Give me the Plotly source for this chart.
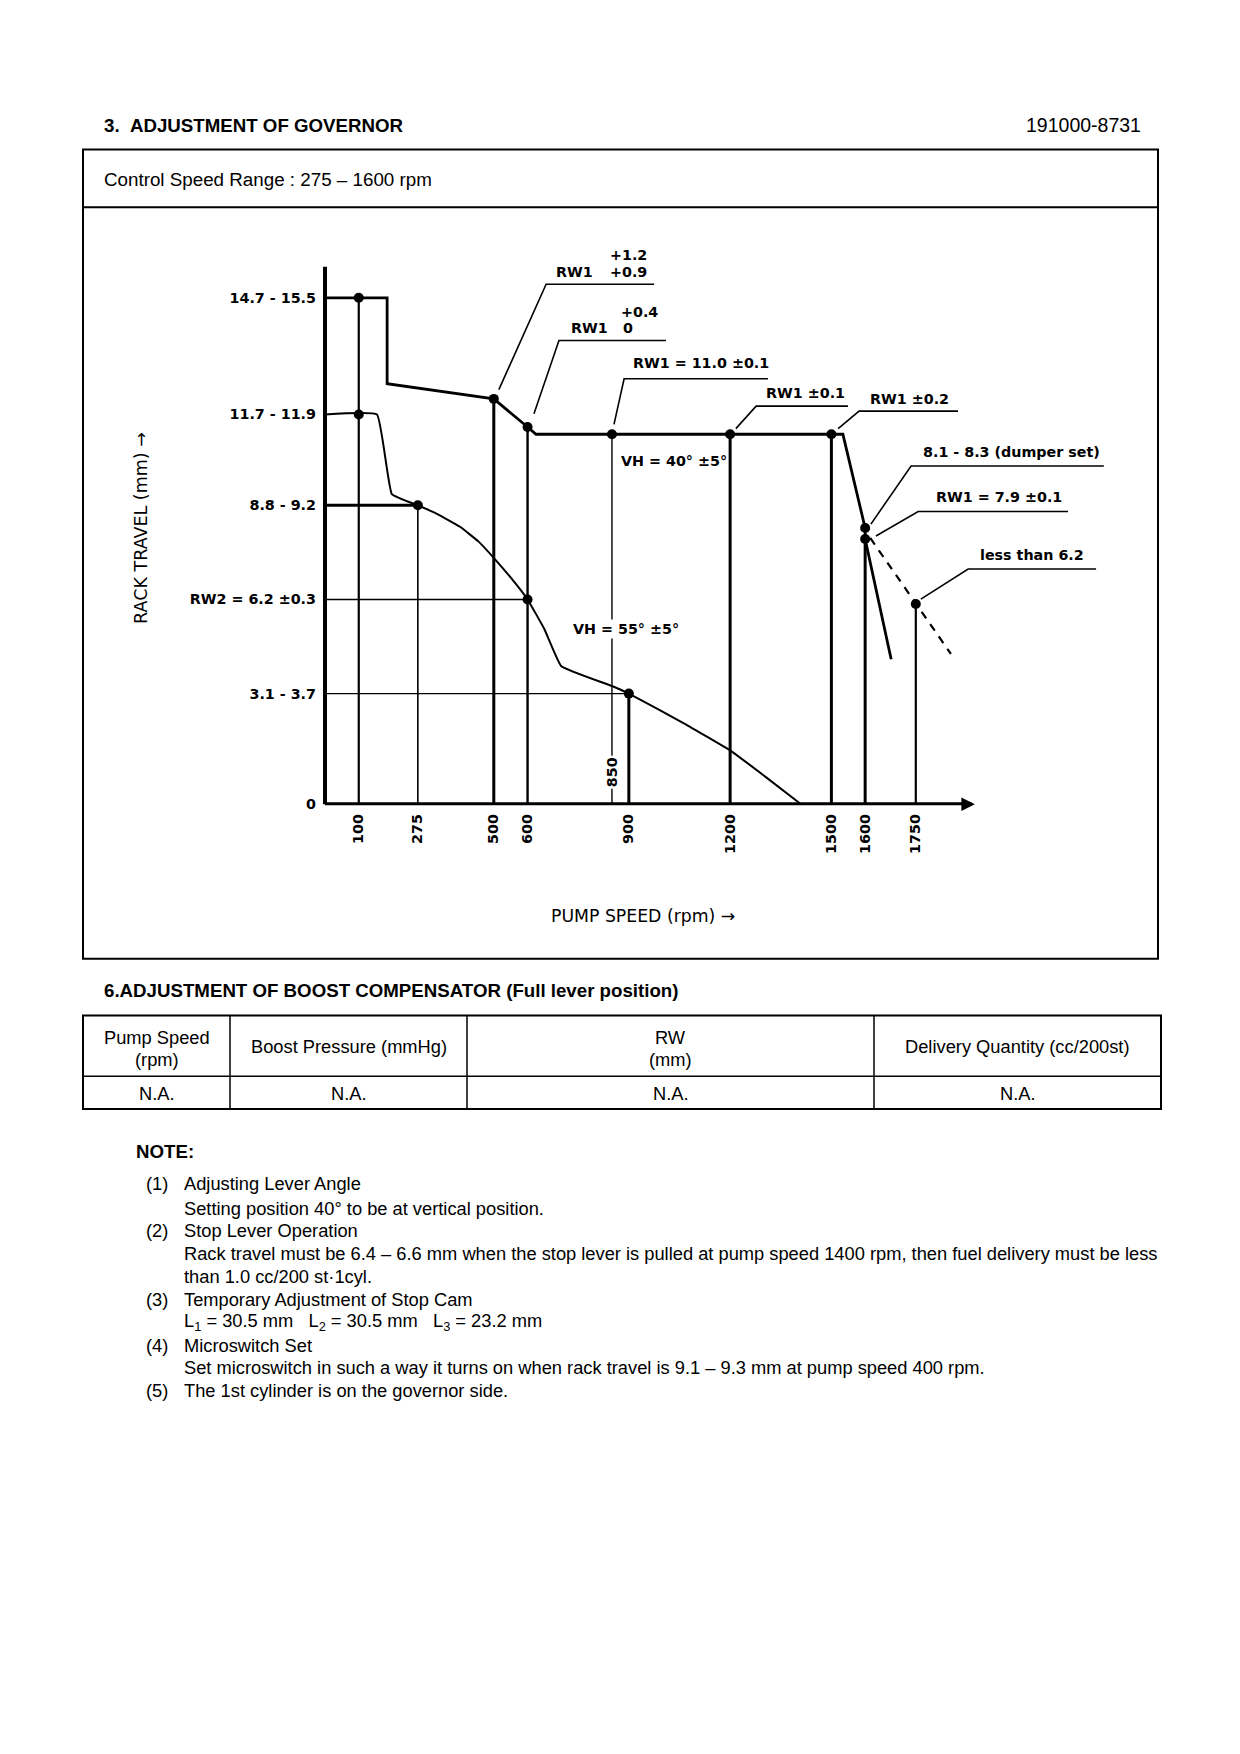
import plotly.graph_objects as go

W, H = 1240, 1754

# ---------------- data ----------------
upper_rpm = [0, 184, 184, 500, 600, 625, 850, 1200, 1500, 1534, 1600, 1600, 1677]
upper_mm = [15.33, 15.33, 12.73, 12.27, 11.42, 11.2, 11.2, 11.2, 11.2, 11.2, 8.36, 8.03, 4.39]

lower_rpm = [0, 154, 198, 275, 330, 400, 455, 505, 551, 600, 650, 700, 850, 900, 1063, 1203, 1305, 1410]
lower_mm = [11.8, 11.8, 9.39, 9.05, 8.8, 8.4, 7.95, 7.4, 6.85, 6.2, 5.3, 4.18, 3.58, 3.35, 2.45, 1.61, 0.83, 0.0]

stop_rpm = [1615, 1854]
stop_mm = [8.06, 4.55]

point_rpm = [100, 100, 275, 500, 600, 600, 850, 900, 1200, 1500, 1600, 1600, 1750]
point_mm = [15.33, 11.8, 9.05, 12.27, 11.42, 6.2, 11.2, 3.35, 11.2, 11.2, 8.36, 8.03, 6.06]

drop_rpm = [100, 275, 500, 600, 850, 900, 1200, 1500, 1600, 1750]
drop_mm = [15.33, 9.05, 12.27, 11.42, 11.2, 3.35, 11.2, 11.2, 8.03, 6.06]
drop_width = [2.2, 1.6, 3.0, 2.4, 1.4, 3.0, 3.0, 3.0, 3.0, 2.2]

ref_mm = [9.05, 6.2, 3.35]
ref_rpm = [275, 600, 900]
ref_width = [3.0, 1.4, 1.4]

xtick_vals = [100, 275, 500, 600, 900, 1200, 1500, 1600, 1750]
xtick_text = ["100", "275", "500", "600", "900", "1200", "1500", "1600", "1750"]
ytick_vals = [15.33, 11.8, 9.05, 6.2, 3.35, 0]
ytick_text = ["14.7 - 15.5", "11.7 - 11.9", "8.8 - 9.2", "RW2 = 6.2 ±0.3", "3.1 - 3.7", "0"]

axis_x_end = 1925
axis_y_end = 16.27

# callouts: underline (x0, x1, y), leader end (x, y), texts [(text, x, y)]
callouts = [
    dict(ul=(655, 975, 15.74), end=(515, 12.55),
         texts=[("RW1", 678, 16.12), ("+1.2", 838, 16.64), ("+0.9", 838, 16.12)]),
    dict(ul=(693, 1010, 14.04), end=(619, 11.82),
         texts=[("RW1", 723, 14.41), ("+0.4", 871, 14.9), ("0", 877, 14.41)]),
    dict(ul=(886, 1312, 12.88), end=(856, 11.5), texts=[("RW1 = 11.0 ±0.1", 906, 13.36)]),
    dict(ul=(1277, 1549, 12.05), end=(1217, 11.37), texts=[("RW1 ±0.1", 1300, 12.46)]),
    dict(ul=(1582, 1875, 11.9), end=(1520, 11.37), texts=[("RW1 ±0.2", 1608, 12.27)]),
    dict(ul=(1736, 2307, 10.24), end=(1617, 8.48), texts=[("8.1 - 8.3 (dumper set)", 1765, 10.67)]),
    dict(ul=(1757, 2201, 8.86), end=(1632, 8.12), texts=[("RW1 = 7.9 ±0.1", 1804, 9.31)]),
    dict(ul=(1905, 2284, 7.12), end=(1765, 6.21), texts=[("less than 6.2", 1934, 7.54)]),
]

table_header = [["Pump Speed", "(rpm)"], ["Boost Pressure (mmHg)"], ["RW", "(mm)"], ["Delivery Quantity (cc/200st)"]]
table_row = ["N.A.", "N.A.", "N.A.", "N.A."]

notes = [
    ("(1)", "Adjusting Lever Angle"),
    ("", "Setting position 40° to be at vertical position."),
    ("(2)", "Stop Lever Operation"),
    ("", "Rack travel must be 6.4 – 6.6 mm when the stop lever is pulled at pump speed 1400 rpm, then fuel delivery must be less"),
    ("", "than 1.0 cc/200 st·1cyl."),
    ("(3)", "Temporary Adjustment of Stop Cam"),
    ("", "L<sub>1</sub> = 30.5 mm\u00a0\u00a0\u00a0L<sub>2</sub> = 30.5 mm\u00a0\u00a0\u00a0L<sub>3</sub> = 23.2 mm"),
    ("(4)", "Microswitch Set"),
    ("", "Set microswitch in such a way it turns on when rack travel is 9.1 – 9.3 mm at pump speed 400 rpm."),
    ("(5)", "The 1st cylinder is on the governor side."),
]

# ---------------- layout geometry (pixels) ----------------
OX, OY = 325.0, 807.5        # pixel of (0 rpm, 0 mm)
KX, KY = 0.3376, 33.17       # px per rpm, px per mm
DOM_L, DOM_R, DOM_T, DOM_B = 322.0, 1150.0, 215.0, 808.5

def PX(x):
    return x / W

def PY(y):
    return 1 - y / H

xr = [(DOM_L - OX) / KX, (DOM_R - OX) / KX]
yr = [(OY - DOM_B) / KY, (OY - DOM_T) / KY]

CH_FONT = dict(family="DejaVu Sans", size=14.3, color="black", weight="bold")
DOC_FONT = dict(family="Liberation Sans, Arial", size=18.3, color="black")
DOC_BOLD = dict(family="Liberation Sans, Arial", size=18.7, color="black", weight="bold")

fig = go.Figure()

# drop lines
for r, m, w in zip(drop_rpm, drop_mm, drop_width):
    fig.add_trace(go.Scatter(x=[r, r], y=[0, m], mode="lines",
                             line=dict(color="black", width=w), showlegend=False, hoverinfo="skip"))
for r, m, w in zip(ref_rpm, ref_mm, ref_width):
    fig.add_trace(go.Scatter(x=[0, r], y=[m, m], mode="lines",
                             line=dict(color="black", width=w), showlegend=False, hoverinfo="skip"))

fig.add_trace(go.Scatter(x=upper_rpm, y=upper_mm, mode="lines",
                         line=dict(color="black", width=2.8), showlegend=False, hoverinfo="skip"))
fig.add_trace(go.Scatter(x=lower_rpm, y=lower_mm, mode="lines",
                         line=dict(color="black", width=2.0, shape="spline", smoothing=0.3),
                         showlegend=False, hoverinfo="skip"))
fig.add_trace(go.Scatter(x=stop_rpm, y=stop_mm, mode="lines",
                         line=dict(color="black", width=2.2, dash="8px,7px"), showlegend=False, hoverinfo="skip"))

# callout leaders and underlines
for c in callouts:
    x0, x1, yy = c["ul"]
    ex, ey = c["end"]
    fig.add_trace(go.Scatter(x=[ex, x0, x1], y=[ey, yy, yy], mode="lines",
                             line=dict(color="black", width=1.6), showlegend=False, hoverinfo="skip"))

fig.add_trace(go.Scatter(x=point_rpm, y=point_mm, mode="markers",
                         marker=dict(color="black", size=10), showlegend=False, hoverinfo="skip",
                         cliponaxis=False))

annotations = []
for c in callouts:
    for t, tx, ty in c["texts"]:
        annotations.append(dict(x=tx, y=ty, xref="x", yref="y", text=t, showarrow=False,
                                xanchor="left", yanchor="middle", font=CH_FONT))

annotations.append(dict(x=871, y=10.39, xref="x", yref="y", text="VH = 40° ±5°", showarrow=False,
                        xanchor="left", yanchor="middle", font=CH_FONT))
annotations.append(dict(x=729, y=5.3, xref="x", yref="y", text="VH = 55° ±5°", showarrow=False,
                        xanchor="left", yanchor="middle", font=CH_FONT, bgcolor="white"))
annotations.append(dict(x=850, y=0.97, xref="x", yref="y", text="850", showarrow=False, textangle=-90,
                        xanchor="center", yanchor="middle", font=CH_FONT, bgcolor="white"))
# x-axis arrow head
annotations.append(dict(x=axis_x_end, y=0, xref="x", yref="y", ax=-14, ay=0, axref="pixel", ayref="pixel",
                        text="", showarrow=True, arrowhead=2, arrowsize=0.9, arrowwidth=3, arrowcolor="black"))

# axis titles
annotations.append(dict(x=PX(141), y=PY(530), xref="paper", yref="paper", text="RACK TRAVEL (mm) →",
                        textangle=-90, showarrow=False, xanchor="center", yanchor="middle",
                        font=dict(family="DejaVu Sans", size=17.5, color="black")))
annotations.append(dict(x=PX(643), y=PY(919.5), xref="paper", yref="paper", text="PUMP SPEED (rpm) →",
                        showarrow=False, xanchor="center", yanchor="middle",
                        font=dict(family="DejaVu Sans", size=17.3, color="black")))

# document texts
annotations.append(dict(x=PX(102), y=PY(126), xref="paper", yref="paper",
                        text="3.\u00a0\u00a0ADJUSTMENT OF GOVERNOR", showarrow=False,
                        xanchor="left", yanchor="middle", font=DOC_BOLD))
annotations.append(dict(x=PX(1143), y=PY(126), xref="paper", yref="paper", text="191000-8731",
                        showarrow=False, xanchor="right", yanchor="middle",
                        font=dict(family="Liberation Sans, Arial", size=19.5, color="black")))
annotations.append(dict(x=PX(102), y=PY(180), xref="paper", yref="paper",
                        text="Control Speed Range : 275 – 1600 rpm", showarrow=False,
                        xanchor="left", yanchor="middle",
                        font=dict(family="Liberation Sans, Arial", size=18.8, color="black")))
annotations.append(dict(x=PX(102), y=PY(994.5), xref="paper", yref="paper",
                        text="6.ADJUSTMENT OF BOOST COMPENSATOR (Full lever position)", showarrow=False,
                        xanchor="left", yanchor="middle", font=DOC_BOLD))

col_edges = [83, 230, 467, 874, 1161]
for i, (h, v) in enumerate(zip(table_header, table_row)):
    cx = (col_edges[i] + col_edges[i + 1]) / 2
    ys = [1042, 1063.5] if len(h) == 2 else [1050.5]
    for line_txt, yy in zip(h, ys):
        annotations.append(dict(x=PX(cx), y=PY(yy), xref="paper", yref="paper", text=line_txt,
                                showarrow=False, xanchor="center", yanchor="middle", font=DOC_FONT))
    annotations.append(dict(x=PX(cx), y=PY(1097.5), xref="paper", yref="paper", text=v, showarrow=False,
                            xanchor="center", yanchor="middle", font=DOC_FONT))

annotations.append(dict(x=PX(134), y=PY(1156.5), xref="paper", yref="paper", text="NOTE:", showarrow=False,
                        xanchor="left", yanchor="middle", font=DOC_BOLD))
note_y = [1188.5, 1213.5, 1235.5, 1258.5, 1281.5, 1304.5, 1327.5, 1350.5, 1372.5, 1396.5]
for (num, txt), yy in zip(notes, note_y):
    if num:
        annotations.append(dict(x=PX(144), y=PY(yy), xref="paper", yref="paper", text=num, showarrow=False,
                                xanchor="left", yanchor="middle", font=DOC_FONT))
    annotations.append(dict(x=PX(182), y=PY(yy), xref="paper", yref="paper", text=txt, showarrow=False,
                            xanchor="left", yanchor="middle", font=DOC_FONT))

shapes = []
# chart axes
shapes.append(dict(type="line", xref="x", yref="y", x0=0, y0=0, x1=axis_x_end - 10, y1=0,
                   line=dict(color="black", width=4)))
shapes.append(dict(type="line", xref="x", yref="y", x0=0, y0=0, x1=0, y1=axis_y_end,
                   line=dict(color="black", width=4)))
# boxes
shapes.append(dict(type="rect", xref="paper", yref="paper", x0=PX(83), x1=PX(1158), y0=PY(962.5), y1=PY(150),
                   line=dict(color="black", width=2)))
shapes.append(dict(type="line", xref="paper", yref="paper", x0=PX(83), x1=PX(1158), y0=PY(208), y1=PY(208),
                   line=dict(color="black", width=2)))
# table
shapes.append(dict(type="rect", xref="paper", yref="paper", x0=PX(83), x1=PX(1161), y0=PY(1113.5), y1=PY(1019.5),
                   line=dict(color="black", width=2)))
shapes.append(dict(type="line", xref="paper", yref="paper", x0=PX(83), x1=PX(1161), y0=PY(1080.5), y1=PY(1080.5),
                   line=dict(color="black", width=1.5)))
for cx in col_edges[1:-1]:
    shapes.append(dict(type="line", xref="paper", yref="paper", x0=PX(cx), x1=PX(cx), y0=PY(1113.5), y1=PY(1019.5),
                       line=dict(color="black", width=1.5)))

fig.update_layout(
    width=W, height=H, margin=dict(l=0, r=0, t=0, b=0),
    paper_bgcolor="white", plot_bgcolor="white",
    showlegend=False, hovermode=False,
    xaxis=dict(domain=[PX(DOM_L), PX(DOM_R)], range=xr, showgrid=False, zeroline=False, showline=False,
               tickmode="array", tickvals=xtick_vals, ticktext=xtick_text, tickangle=-90, ticks="",
               tickfont=CH_FONT, ticklabelstandoff=5, fixedrange=True),
    yaxis=dict(domain=[PY(DOM_B), PY(DOM_T)], range=yr, showgrid=False, zeroline=False, showline=False,
               tickmode="array", tickvals=ytick_vals, ticktext=ytick_text, ticks="",
               tickfont=CH_FONT, ticklabelstandoff=5, fixedrange=True),
    annotations=annotations, shapes=shapes,
)

fig.write_html("out.html", include_plotlyjs=True, config={"staticPlot": True},
               post_script="document.body.style.margin='0';document.body.style.overflow='hidden';")
